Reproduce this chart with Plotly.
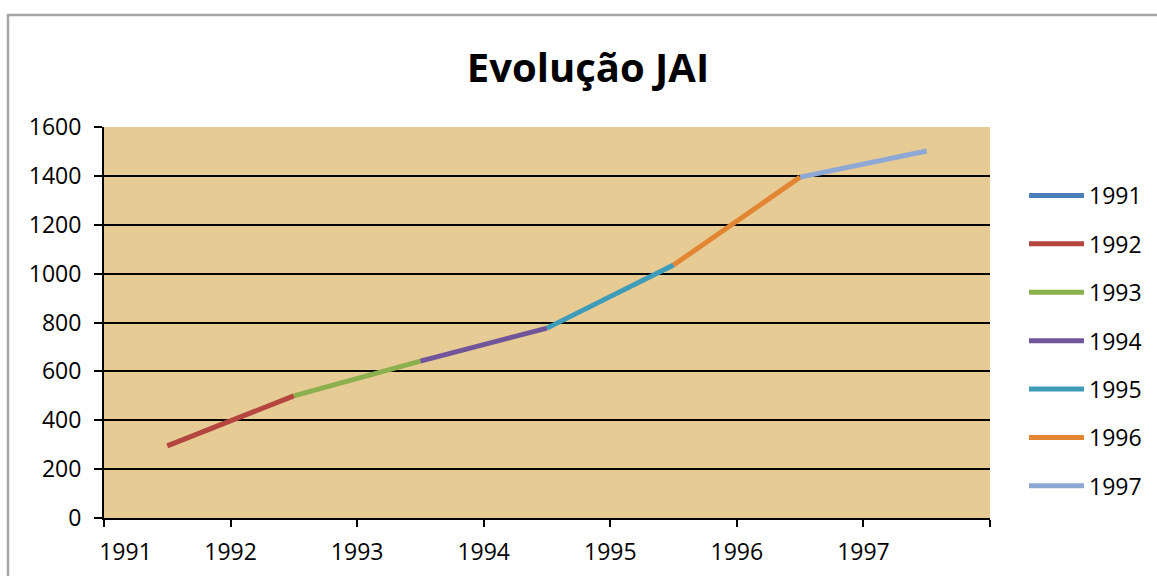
import plotly.graph_objects as go

years = ["1991", "1992", "1993", "1994", "1995", "1996", "1997"]
values = [295, 500, 642, 777, 1035, 1395, 1502]
colors = ["#4A7EBB", "#B4453F", "#8DB04F", "#71559A", "#3E9CB8", "#E38634", "#8EA8D5"]
title = "Evolução JAI"

FONT = "Open Sans"
W, H = 1157, 576
L, R, T, B = 104, 990, 127, 518

fig = go.Figure()
xs = [i + 0.5 for i in range(len(years))]
for k, yr in enumerate(years):
    if k == 0:
        px, py = [xs[0]], [values[0]]
    else:
        px, py = [xs[k - 1], xs[k]], [values[k - 1], values[k]]
    fig.add_trace(go.Scatter(
        x=px, y=py, mode="lines", name=yr, legendgroup=yr,
        line=dict(color=colors[k], width=5),
    ))

fig.update_layout(
    width=W, height=H,
    margin=dict(l=L, r=W - R, t=T, b=H - B, autoexpand=False),
    paper_bgcolor="white",
    plot_bgcolor="#E6CB95",
    title=dict(text="<b>" + title + "</b>", x=588 / W, xanchor="center",
               y=1 - 68 / H, yanchor="middle",
               font=dict(family=FONT, size=40, color="black")),
    font=dict(family=FONT, size=23, color="black"),
    legend=dict(x=(1024 - L) / (R - L), xanchor="left", y=(B - 174) / (B - T), yanchor="top",
                tracegroupgap=15.5, itemwidth=55, bgcolor="rgba(0,0,0,0)",
                font=dict(family=FONT, size=23, color="black")),
    showlegend=True,
)

fig.update_xaxes(
    range=[0, 7], showgrid=False, zeroline=False,
    showline=True, linecolor="black", linewidth=2,
    tickvals=[0.17] + list(range(1, len(years))), ticktext=years,
    ticks="", ticklen=0,
    minor=dict(tickvals=list(range(0, len(years) + 1)), ticks="outside", ticklen=7,
               tickwidth=2, tickcolor="black", showgrid=False),
    tickfont=dict(family=FONT, size=23, color="black"),
    ticklabelstandoff=12,
)
fig.update_yaxes(
    range=[0, 1600], dtick=200, showgrid=True, gridcolor="black", gridwidth=1.6,
    zeroline=False, showline=True, linecolor="black", linewidth=2,
    ticks="outside", ticklen=8, tickwidth=2, tickcolor="black",
    tickfont=dict(family=FONT, size=23, color="black"),
    ticklabelstandoff=8,
)

# chart-area border (Excel frame)
fig.add_shape(type="rect", xref="paper", yref="paper",
              x0=(8 - L) / (R - L), x1=(W + 10 - L) / (R - L),
              y0=(B - (H + 10)) / (B - T), y1=(B - 15) / (B - T),
              line=dict(color="#A6A6A6", width=2.5), fillcolor="rgba(0,0,0,0)", layer="below")

fig.write_html("out.html", config={"displayModeBar": False},
               post_script="document.body.style.margin='0';document.body.style.overflow='hidden';")
